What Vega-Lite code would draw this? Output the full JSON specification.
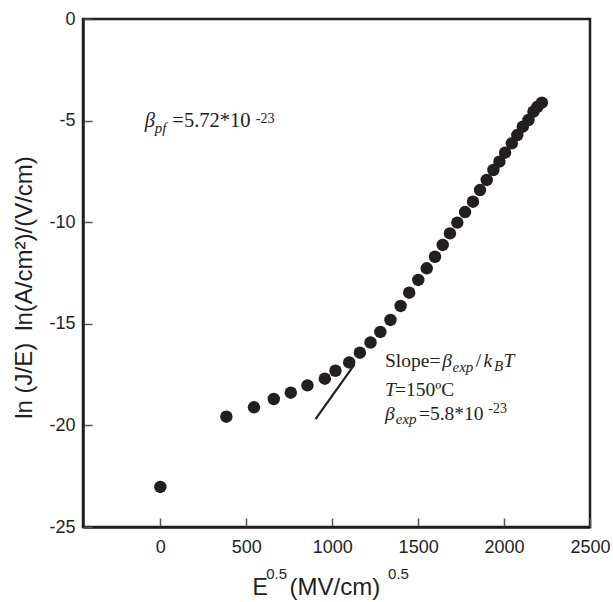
{
  "$schema": "https://vega.github.io/schema/vega-lite/v6.json",
  "width": 507,
  "height": 508,
  "autosize": {"type": "none"},
  "padding": {"left": 83, "top": 19, "right": 23, "bottom": 75},
  "background": "white",
  "config": {
    "view": {"stroke": "#231f20", "strokeWidth": 2.5},
    "font": "Liberation Sans"
  },
  "datasets": {
    "points": [
      {"E05": 0, "lnJE": -23.03},
      {"E05": 384, "lnJE": -19.57},
      {"E05": 545, "lnJE": -19.11},
      {"E05": 660, "lnJE": -18.70},
      {"E05": 759, "lnJE": -18.39},
      {"E05": 856, "lnJE": -18.03},
      {"E05": 957, "lnJE": -17.70},
      {"E05": 1019, "lnJE": -17.31},
      {"E05": 1099, "lnJE": -16.90},
      {"E05": 1161, "lnJE": -16.42},
      {"E05": 1223, "lnJE": -15.92},
      {"E05": 1280, "lnJE": -15.40},
      {"E05": 1339, "lnJE": -14.81},
      {"E05": 1398, "lnJE": -14.12},
      {"E05": 1448, "lnJE": -13.47},
      {"E05": 1501, "lnJE": -12.84},
      {"E05": 1550, "lnJE": -12.27},
      {"E05": 1598, "lnJE": -11.70},
      {"E05": 1643, "lnJE": -11.12},
      {"E05": 1685, "lnJE": -10.55},
      {"E05": 1728, "lnJE": -10.02},
      {"E05": 1773, "lnJE": -9.50},
      {"E05": 1819, "lnJE": -8.99},
      {"E05": 1860, "lnJE": -8.42},
      {"E05": 1899, "lnJE": -7.92},
      {"E05": 1938, "lnJE": -7.43},
      {"E05": 1973, "lnJE": -7.02},
      {"E05": 2006, "lnJE": -6.58},
      {"E05": 2045, "lnJE": -6.12},
      {"E05": 2077, "lnJE": -5.71},
      {"E05": 2109, "lnJE": -5.30},
      {"E05": 2142, "lnJE": -4.97},
      {"E05": 2171, "lnJE": -4.56},
      {"E05": 2194, "lnJE": -4.32},
      {"E05": 2220, "lnJE": -4.12}
    ],
    "fit": [
      {"E05": 903, "lnJE": -19.69},
      {"E05": 1130, "lnJE": -17.0}
    ],
    "notes": [
      {"E05": -91, "lnJE": -5.33, "text": "β", "role": "italicL"},
      {"E05": -33, "lnJE": -5.63, "text": "pf", "role": "sub"},
      {"E05": 70, "lnJE": -5.33, "text": "=5.72*10", "role": "romanL"},
      {"E05": 555, "lnJE": -5.13, "text": "-23", "role": "sup"},
      {"E05": 1307, "lnJE": -17.14, "text": "Slope=", "role": "roman"},
      {"E05": 1640, "lnJE": -17.14, "text": "β", "role": "italic"},
      {"E05": 1700, "lnJE": -17.36, "text": "exp", "role": "sub"},
      {"E05": 1835, "lnJE": -17.14, "text": "/", "role": "roman"},
      {"E05": 1880, "lnJE": -17.14, "text": "k", "role": "italic"},
      {"E05": 1942, "lnJE": -17.30, "text": "B", "role": "sub"},
      {"E05": 1996, "lnJE": -17.14, "text": "T", "role": "italic"},
      {"E05": 1307, "lnJE": -18.54, "text": "T", "role": "italic"},
      {"E05": 1365, "lnJE": -18.54, "text": "=150ºC", "role": "roman"},
      {"E05": 1307, "lnJE": -19.73, "text": "β", "role": "italic"},
      {"E05": 1370, "lnJE": -19.93, "text": "exp", "role": "sub"},
      {"E05": 1505, "lnJE": -19.73, "text": "=5.8*10", "role": "roman"},
      {"E05": 1908, "lnJE": -19.40, "text": "-23", "role": "sup"},
      {"E05": 536, "lnJE": -28.35, "text": "E", "role": "title"},
      {"E05": 616, "lnJE": -27.56, "text": "0.5", "role": "titleSup"},
      {"E05": 752, "lnJE": -28.35, "text": "(MV/cm)", "role": "titleBig"},
      {"E05": 1325, "lnJE": -27.56, "text": "0.5", "role": "titleSup"}
    ]
  },
  "encoding": {
    "x": {
      "field": "E05", "type": "quantitative",
      "scale": {"domain": [-450, 2500], "nice": false, "zero": false},
      "axis": {
        "values": [0, 500, 1000, 1500, 2000, 2500],
        "title": null,
        "grid": false,
        "tickSize": -9,
        "tickColor": "#555555",
        "tickWidth": 1.5,
        "domainColor": "#231f20",
        "domainWidth": 2.5,
        "labelFont": "Liberation Sans",
        "labelFontSize": 18,
        "labelColor": "#231f20",
        "labelPadding": 20,
        "labelFlush": false,
        "labelOverlap": false,
        "labelExpr": "'' + datum.value"
      }
    },
    "y": {
      "field": "lnJE", "type": "quantitative",
      "scale": {"domain": [-25, 0], "nice": false, "zero": false},
      "axis": {
        "values": [0, -5, -10, -15, -20, -25],
        "title": "ln (J/E)\u2002ln(A/cm²)/(V/cm)",
        "titleFont": "Liberation Sans",
        "titleFontSize": 24,
        "titleFontWeight": "normal",
        "titleColor": "#231f20",
        "titleAngle": -90,
        "titleAlign": "center",
        "titleBaseline": "alphabetic",
        "titleX": -52,
        "titleY": 268,
        "grid": false,
        "tickSize": -9,
        "tickColor": "#555555",
        "tickWidth": 1.5,
        "domainColor": "#231f20",
        "domainWidth": 2.5,
        "labelFont": "Liberation Sans",
        "labelFontSize": 18,
        "labelColor": "#231f20",
        "labelPadding": 17,
        "labelFlush": false,
        "labelOverlap": false,
        "labelExpr": "'' + datum.value"
      }
    }
  },
  "layer": [
    {
      "data": {"name": "points"},
      "mark": {"type": "circle", "size": 155, "color": "#231f20", "opacity": 1}
    },
    {
      "data": {"name": "fit"},
      "mark": {"type": "line", "color": "#231f20", "strokeWidth": 2.2}
    },
    {
      "data": {"name": "notes"},
      "transform": [{"filter": "datum.role === 'roman'"}],
      "mark": {"type": "text", "font": "Liberation Serif", "fontSize": 19.5, "align": "left", "baseline": "alphabetic", "color": "#231f20"},
      "encoding": {"text": {"field": "text"}}
    },
    {
      "data": {"name": "notes"},
      "transform": [{"filter": "datum.role === 'romanL'"}],
      "mark": {"type": "text", "font": "Liberation Serif", "fontSize": 20.5, "align": "left", "baseline": "alphabetic", "color": "#231f20"},
      "encoding": {"text": {"field": "text"}}
    },
    {
      "data": {"name": "notes"},
      "transform": [{"filter": "datum.role === 'italic'"}],
      "mark": {"type": "text", "font": "Liberation Serif", "fontStyle": "italic", "fontSize": 19.5, "align": "left", "baseline": "alphabetic", "color": "#231f20"},
      "encoding": {"text": {"field": "text"}}
    },
    {
      "data": {"name": "notes"},
      "transform": [{"filter": "datum.role === 'italicL'"}],
      "mark": {"type": "text", "font": "Liberation Serif", "fontStyle": "italic", "fontSize": 20.5, "align": "left", "baseline": "alphabetic", "color": "#231f20"},
      "encoding": {"text": {"field": "text"}}
    },
    {
      "data": {"name": "notes"},
      "transform": [{"filter": "datum.role === 'sub'"}],
      "mark": {"type": "text", "font": "Liberation Serif", "fontStyle": "italic", "fontSize": 15, "align": "left", "baseline": "alphabetic", "color": "#231f20"},
      "encoding": {"text": {"field": "text"}}
    },
    {
      "data": {"name": "notes"},
      "transform": [{"filter": "datum.role === 'sup'"}],
      "mark": {"type": "text", "font": "Liberation Serif", "fontSize": 14, "align": "left", "baseline": "alphabetic", "color": "#231f20"},
      "encoding": {"text": {"field": "text"}}
    },
    {
      "data": {"name": "notes"},
      "transform": [{"filter": "datum.role === 'title'"}],
      "mark": {"type": "text", "font": "Liberation Sans", "fontSize": 23, "align": "left", "baseline": "alphabetic", "color": "#231f20"},
      "encoding": {"text": {"field": "text"}}
    },
    {
      "data": {"name": "notes"},
      "transform": [{"filter": "datum.role === 'titleBig'"}],
      "mark": {"type": "text", "font": "Liberation Sans", "fontSize": 24, "align": "left", "baseline": "alphabetic", "color": "#231f20"},
      "encoding": {"text": {"field": "text"}}
    },
    {
      "data": {"name": "notes"},
      "transform": [{"filter": "datum.role === 'titleSup'"}],
      "mark": {"type": "text", "font": "Liberation Sans", "fontSize": 15, "align": "left", "baseline": "alphabetic", "color": "#231f20"},
      "encoding": {"text": {"field": "text"}}
    }
  ]
}
